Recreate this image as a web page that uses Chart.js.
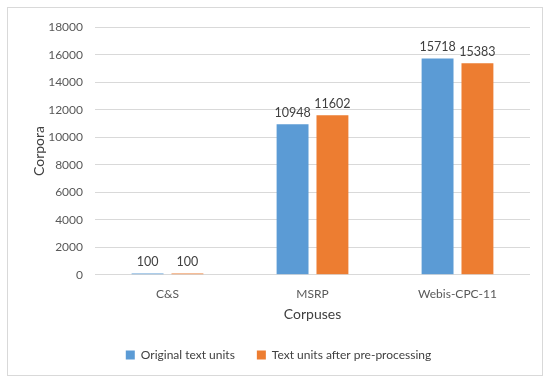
<!DOCTYPE html>
<html>
<head>
<meta charset="utf-8">
<script src="https://cdn.jsdelivr.net/npm/chart.js@4"></script>
<style>
  html, body { margin: 0; padding: 0; background: #fff; }
  #frame {
    position: absolute; left: 7px; top: 7px;
    width: 534px; height: 367px;
    border: 1px solid #d9d9d9;
  }
</style>
</head>
<body>
<div id="frame"><canvas id="chart" width="534" height="367"></canvas></div>
<script>
const categories = ['C&S', 'MSRP', 'Webis-CPC-11'];
const originalUnits = [100, 10948, 15718];
const processedUnits = [100, 11602, 15383];
const seriesNames = ['Original text units', 'Text units after pre-processing'];

const fontFamily = 'Lato, "Open Sans", sans-serif';

// draws the value above every bar
const barValues = {
	id: 'barValues',
	afterDatasetsDraw(chart) {
		const ctx = chart.ctx;
		ctx.save();
		ctx.font = '12.5px ' + fontFamily;
		ctx.fillStyle = '#404040';
		ctx.textAlign = 'center';
		ctx.textBaseline = 'bottom';
		chart.data.datasets.forEach((ds, i) => {
			chart.getDatasetMeta(i).data.forEach((bar, j) => {
				ctx.fillText(String(ds.data[j]), bar.x, bar.y - 5);
			});
		});
		ctx.restore();
	}
};

new Chart(document.getElementById('chart'), {
	type: 'bar',
	data: {
		labels: categories,
		datasets: [
			{ label: seriesNames[0], data: originalUnits, backgroundColor: '#5b9bd5' },
			{ label: seriesNames[1], data: processedUnits, backgroundColor: '#ed7d31' }
		]
	},
	options: {
		responsive: false,
		animation: false,
		categoryPercentage: 0.55,
		barPercentage: 0.8,
		layout: { padding: { top: 4, right: 12, left: 19, bottom: 4 } },
		plugins: {
			legend: {
				position: 'bottom',
				labels: {
					font: { family: fontFamily, size: 12 },
					color: '#404040',
					boxWidth: 9,
					boxHeight: 9,
					padding: 22
				}
			},
			tooltip: { enabled: false }
		},
		scales: {
			x: {
				grid: { display: false },
				border: { display: false },
				ticks: { font: { family: fontFamily, size: 12 }, color: '#595959', padding: 4 },
				title: { display: true, text: 'Corpuses', font: { family: fontFamily, size: 14 }, color: '#404040', padding: { top: 1 } }
			},
			y: {
				min: 0,
				max: 18000,
				afterFit: scale => { scale.width = 68; },
				ticks: {
					stepSize: 2000,
					callback: v => String(v),
					font: { family: fontFamily, size: 12 },
					color: '#595959',
					padding: 12
				},
				grid: { color: '#d9d9d9', drawTicks: false },
				border: { display: false },
				title: { display: true, text: 'Corpora', font: { family: fontFamily, size: 14 }, color: '#404040', padding: { bottom: 4 } }
			}
		}
	},
	plugins: [barValues]
});
</script>
</body>
</html>
